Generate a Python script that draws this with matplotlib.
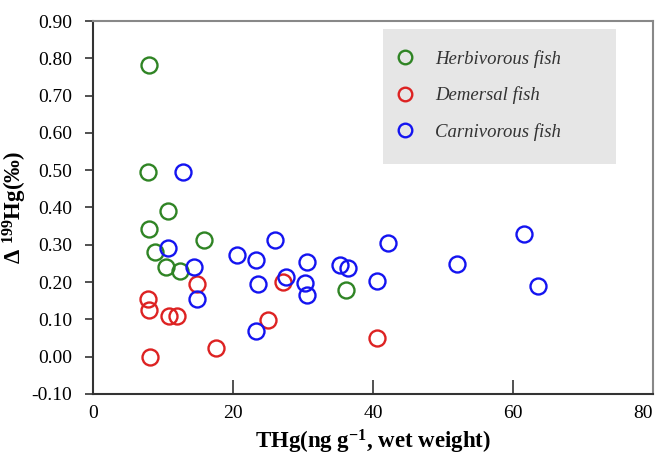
import matplotlib

matplotlib.use("Agg")
import matplotlib.pyplot as plt  # noqa: E402
from matplotlib.patches import Rectangle  # noqa: E402

plt.rcParams["font.family"] = ["Liberation Serif", "DejaVu Serif"]
plt.rcParams["mathtext.fontset"] = "custom"
plt.rcParams["mathtext.rm"] = "Liberation Serif"
plt.rcParams["mathtext.bf"] = "Liberation Serif:bold"
plt.rcParams["mathtext.it"] = "Liberation Serif:italic"

# THg (ng/g wet weight) and Δ199Hg (‰) per fish group
herb_x = [8.0, 7.9, 10.7, 8.0, 15.9, 8.9, 10.4, 12.4, 36.2]
herb_y = [0.782, 0.494, 0.391, 0.342, 0.313, 0.281, 0.240, 0.230, 0.180]

dem_x = [7.8, 8.0, 10.9, 12.0, 14.9, 8.2, 17.6, 25.0, 27.1, 40.5]
dem_y = [0.155, 0.125, 0.109, 0.109, 0.194, 0.000, 0.024, 0.098, 0.200, 0.050]

carn_x = [12.9, 10.7, 14.4, 14.9, 20.5, 23.3, 26.0, 23.5, 27.5, 23.3,
          30.6, 30.3, 30.6, 35.3, 36.4, 42.2, 40.5, 52.0, 61.6, 63.5]
carn_y = [0.494, 0.291, 0.240, 0.154, 0.273, 0.258, 0.313, 0.194, 0.213, 0.070,
          0.254, 0.197, 0.165, 0.245, 0.239, 0.304, 0.204, 0.249, 0.328, 0.190]

labels = ["Herbivorous fish", "Demersal fish", "Carnivorous fish"]
colors = ["#2f8424", "#dd2222", "#1414f0"]
x_ticks = [0, 20, 40, 60, 80]
y_ticks = [-0.10, 0.00, 0.10, 0.20, 0.30, 0.40, 0.50, 0.60, 0.70, 0.80, 0.90]

fig = plt.figure(figsize=(6.58, 4.57), dpi=100)
ax = fig.add_axes([93 / 658, 1 - 394 / 457, 560 / 658, 373 / 457])

for xs, ys, lab, c in zip([herb_x, dem_x, carn_x], [herb_y, dem_y, carn_y], labels, colors):
    ax.plot(xs, ys, "o", ls="none", ms=11.5, mfc="none", mec=c, mew=1.7, label=lab)

ax.set_xlim(0, 80)
ax.set_ylim(-0.10, 0.90)
ax.set_xticks(x_ticks)
ax.set_yticks(y_ticks)
ax.set_yticklabels([f"{v:.2f}" for v in y_ticks])
ax.tick_params(axis="x", direction="in", length=10, width=1.2, pad=8, labelsize=14, color="#333333")
ax.tick_params(axis="y", direction="out", length=6, width=1.2, pad=9, labelsize=14, color="#333333")
ax.get_xticklabels()[-1].set_horizontalalignment("right")

for s in ["left", "bottom"]:
    ax.spines[s].set_color("#333333")
    ax.spines[s].set_linewidth(1.5)
for s in ["top", "right"]:
    ax.spines[s].set_color("#888888")
    ax.spines[s].set_linewidth(1.5)

ax.set_xlabel("THg(ng g$^{\\mathbf{-1}}$, wet weight)", fontsize=16.5, fontweight="bold", labelpad=4)
ax.set_ylabel("Δ $^{\\mathbf{199}}$Hg(‰)", fontsize=16.5, fontweight="bold", labelpad=2)

ax.add_patch(Rectangle((0.518, 0.617), 0.416, 0.362, transform=ax.transAxes,
                       facecolor="#e6e6e6", edgecolor="none", zorder=0))
leg = ax.legend(loc="upper left", bbox_to_anchor=(0.507, 0.968), frameon=False,
                prop={"style": "italic", "size": 13.5}, labelspacing=1.0,
                handletextpad=1.0, handlelength=1.2, markerscale=0.85)
for t in leg.get_texts():
    t.set_color("#333333")

fig.savefig("out.png", dpi=100)
